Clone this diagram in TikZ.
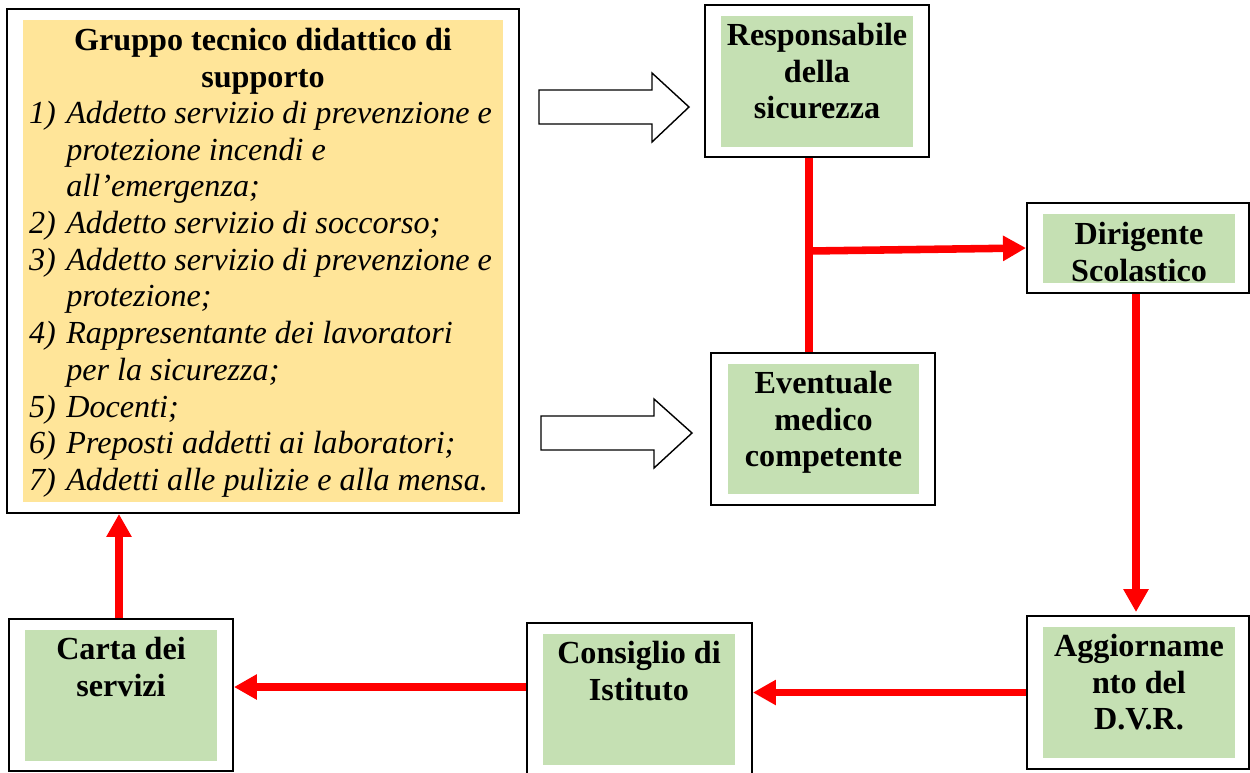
\documentclass[tikz,border=0pt]{standalone}
\usepackage{fontspec}
\setmainfont{Liberation Serif}
\usetikzlibrary{arrows.meta,fit,calc}
\definecolor{boxgreen}{HTML}{C5E0B3}
\definecolor{boxyellow}{HTML}{FFE599}
\newcommand\fstrut{\rule{0pt}{14pt}}
\newcommand\itemnum[1]{\makebox[0.746cm][l]{#1}}
\newcommand\itemind{\hspace*{0.746cm}}
\begin{document}
\begin{tikzpicture}[x=0.02cm,y=-0.02cm,
  outerbox/.style={draw=black, line width=1.1pt, fill=white, inner sep=0pt},
  greenbox/.style={fill=boxgreen, inner sep=0pt},
  yellowbox/.style={fill=boxyellow, inner sep=0pt},
  lbl/.style={font=\fontsize{18.3}{20.9}\selectfont\bfseries, align=center, inner sep=0pt, anchor=north, yshift=14pt},
  listtxt/.style={font=\fontsize{18.3}{20.9}\selectfont\itshape, align=left, inner sep=0pt, anchor=north west, yshift=14pt},
  redarrow/.style={draw=red, line width=4.3pt, -{Triangle[length=0.46cm,width=0.48cm]}},
  redline/.style={draw=red, line width=4.3pt},
  hollow/.style={draw=black, line width=0.8pt, fill=white, line join=miter}]

\clip (0,0) rectangle (1250,772);
\fill[white] (0,0) rectangle (1250,772);

% Gruppo tecnico
\node[outerbox, fit={(7,9)(519,513)}] (grp) {};
\node[yellowbox, fit={(23,20)(503,502)}] (grpin) {};
\node[lbl] (grptitle) at (263,50) {\fstrut Gruppo tecnico didattico di\\supporto};
\node[listtxt] (grplist) at (28.7,123) {\fstrut\itemnum{1)}Addetto servizio di prevenzione e\\
\itemind protezione incendi e\\
\itemind all’emergenza;\\
\itemnum{2)}Addetto servizio di soccorso;\\
\itemnum{3)}Addetto servizio di prevenzione e\\
\itemind protezione;\\
\itemnum{4)}Rappresentante dei lavoratori\\
\itemind per la sicurezza;\\
\itemnum{5)}Docenti;\\
\itemnum{6)}Preposti addetti ai laboratori;\\
\itemnum{7)}Addetti alle pulizie e alla mensa.};

% Responsabile
\node[outerbox, fit={(705,5)(929,157)}] (resp) {};
\node[greenbox, fit={(721,16)(913,147)}] (respin) {};
\node[lbl] (resptxt) at (817,45) {\fstrut Responsabile\\della\\sicurezza};

% Eventuale medico
\node[outerbox, fit={(711,353)(935,505)}] (evt) {};
\node[greenbox, fit={(728,364)(919,494)}] (evtin) {};
\node[lbl] (evttxt) at (823.5,393) {\fstrut Eventuale\\medico\\competente};

% Dirigente
\node[outerbox, fit={(1027,203)(1249,293)}] (dir) {};
\node[greenbox, fit={(1043,214)(1235,283)}] (dirin) {};
\node[lbl] (dirtxt) at (1139,244.5) {\fstrut Dirigente\\Scolastico};

% Aggiornamento
\node[outerbox, fit={(1027,616)(1249,769)}] (agg) {};
\node[greenbox, fit={(1043,627)(1235,758)}] (aggin) {};
\node[lbl] (aggtxt) at (1139,656) {\fstrut Aggiorname\\nto del\\D.V.R.};

% Consiglio
\node[outerbox, fit={(527,623)(752,778)}] (con) {};
\node[greenbox, fit={(543,634)(735,765)}] (conin) {};
\node[lbl] (contxt) at (639,663) {\fstrut Consiglio di\\Istituto};

% Carta dei servizi
\node[outerbox, fit={(9,619)(233,771)}] (car) {};
\node[greenbox, fit={(25,630)(217,761)}] (carin) {};
\node[lbl] (cartxt) at (121,659) {\fstrut Carta dei\\servizi};

% hollow block arrows
\draw[hollow] (539,90) -- (652,90) -- (652,73) -- (689,107) -- (652,142) -- (652,124) -- (539,124) -- cycle;
\draw[hollow] (541,416) -- (654,416) -- (654,399) -- (692,433) -- (654,468) -- (654,450) -- (541,450) -- cycle;

% red connectors
\coordinate (j) at (809,251);
\coordinate (ycc) at (0,687);
\draw[redline] (j |- resp.south) -- (j |- evt.north);
\draw[redarrow] (j) -- (dir.west);
\draw[redarrow, shorten >=0.06cm] ([xshift=-0.04cm]dir.south) -- ([xshift=-0.04cm]agg.north);
\draw[redarrow] (agg.west) -- (agg.west -| con.east);
\draw[redarrow] (con.west |- ycc) -- (car.east |- ycc);
\draw[redarrow] ([xshift=-0.04cm]car.north) -- ([xshift=-0.04cm]car.north |- grp.south);
\end{tikzpicture}
\end{document}
